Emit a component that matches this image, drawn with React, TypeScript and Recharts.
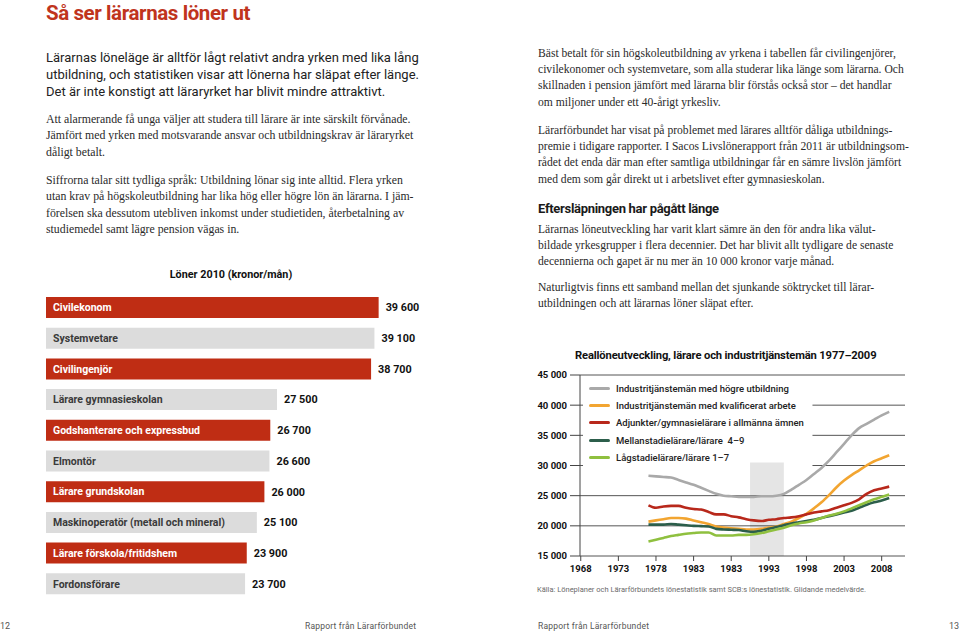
import React from "react";
import {
  Bar,
  BarChart,
  CartesianGrid,
  Cell,
  LabelList,
  Legend,
  Line,
  LineChart,
  ReferenceArea,
  XAxis,
  YAxis,
} from "recharts";

const SANS = "Roboto, 'Noto Sans', sans-serif";
const SERIF = "'Liberation Serif', 'DejaVu Serif', serif";
const RED = "#bf2d14";
const LIGHT = "#dcdcdc";

// Löner 2010 (kronor/mån)
const occupations = [
  "Civilekonom",
  "Systemvetare",
  "Civilingenjör",
  "Lärare gymnasieskolan",
  "Godshanterare och expressbud",
  "Elmontör",
  "Lärare grundskolan",
  "Maskinoperatör (metall och mineral)",
  "Lärare förskola/fritidshem",
  "Fordonsförare",
];
const salaries = [39600, 39100, 38700, 27500, 26700, 26600, 26000, 25100, 23900, 23700];
const highlighted = [true, false, true, false, true, false, true, false, true, false];

// Reallöneutveckling 1977–2009
const years = [
  1977, 1978, 1979, 1980, 1981, 1982, 1983, 1984, 1985, 1986, 1987, 1988, 1989, 1990, 1991, 1992, 1993,
  1994, 1995, 1996, 1997, 1998, 1999, 2000, 2001, 2002, 2003, 2004, 2005, 2006, 2007, 2008, 2009,
];
const hogreUtb = [
  28300, 28200, 28100, 28000, 27600, 27200, 26800, 26300, 25800, 25300, 25000, 24900, 24800, 24800, 24800,
  24900, 24900, 25000, 25300, 26000, 26800, 27600, 28600, 29600, 30800, 32200, 33600, 35000, 36200, 36900,
  37600, 38300, 38900,
];
const kvalificerat = [
  20700, 20900, 21100, 21300, 21300, 21200, 20900, 20600, 20300, 19900, 19700, 19600, 19500, 19400, 19400,
  19500, 19700, 19900, 20300, 20700, 21300, 22000, 22900, 23900, 25100, 26400, 27500, 28400, 29200, 30000,
  30700, 31200, 31700,
];
const adjunkter = [
  23400, 23000, 23200, 23300, 23300, 23000, 22800, 22700, 22300, 21900, 21900, 21600, 21400, 21100, 20900,
  20800, 21000, 21100, 21300, 21400, 21600, 21900, 22200, 22400, 22600, 23000, 23400, 23800, 24400, 25300,
  25900, 26200, 26500,
];
const mellanstadie = [
  20200, 20200, 20200, 20300, 20200, 20100, 20000, 19950, 19900, 19500, 19400, 19350, 19300, 19100, 19000,
  19200, 19500, 19800, 20100, 20400, 20600, 20800, 21000, 21300, 21600, 21900, 22200, 22500, 23000, 23500,
  23900, 24200, 24600,
];
const lagstadie = [
  17400, 17700, 18000, 18300, 18500, 18700, 18800, 18900, 18900, 18400, 18400, 18400, 18500, 18500, 18600,
  18800, 19100, 19400, 19700, 20100, 20400, 20600, 20900, 21300, 21700, 22000, 22400, 22900, 23400, 23900,
  24400, 24800, 25200,
];

const xTicks = [1968, 1973, 1978, 1983, 1988, 1993, 1998, 2003, 2008];
const xTickLabels = ["1968", "1973", "1978", "1983", "1983", "1993", "1998", "2003", "2008"];
const yTicks = [15000, 20000, 25000, 30000, 35000, 40000, 45000];

const seriesNames = [
  "Industritjänstemän med högre utbildning",
  "Industritjänstemän med kvalificerat arbete",
  "Adjunkter/gymnasielärare i allmänna ämnen",
  "Mellanstadielärare/lärare  4–9",
  "Lågstadielärare/lärare 1–7",
];
const seriesKeys = ["hogre", "kval", "adj", "mellan", "lag"];
const seriesColors = ["#a9a9a9", "#f2a531", "#b8281b", "#2c5e4b", "#8fc03f"];

// recession band and legend backdrop, in data units
const band = { x1: 1990.5, x2: 1995, y1: 15000, y2: 30500 };
const legendBox = { x1: 1968.3, x2: 1998.8, y1: 29400, y2: 44300 };

const barData = occupations.map((name, i) => ({ name, salary: salaries[i] }));
const lineData = years.map((year, i) => ({
  year,
  hogre: hogreUtb[i],
  kval: kvalificerat[i],
  adj: adjunkter[i],
  mellan: mellanstadie[i],
  lag: lagstadie[i],
}));

const fmt = (v: number) => String(v).replace(/\B(?=(\d{3})+(?!\d))/g, " ");

const lead = [
  "Lärarnas löneläge är alltför lågt relativt andra yrken med lika lång",
  "utbildning, och statistiken visar att lönerna har släpat efter länge.",
  "Det är inte konstigt att läraryrket har blivit mindre attraktivt.",
];
const left1 = [
  "Att alarmerande få unga väljer att studera till lärare är inte särskilt förvånade.",
  "Jämfört med yrken med motsvarande ansvar och utbildningskrav är läraryrket",
  "dåligt betalt.",
];
const left2 = [
  "Siffrorna talar sitt tydliga språk: Utbildning lönar sig inte alltid. Flera yrken",
  "utan krav på högskoleutbildning har lika hög eller högre lön än lärarna. I jäm-",
  "förelsen ska dessutom utebliven inkomst under studietiden, återbetalning av",
  "studiemedel samt lägre pension vägas in.",
];
const right1 = [
  "Bäst betalt för sin högskoleutbildning av yrkena i tabellen får civilingenjörer,",
  "civilekonomer och systemvetare, som alla studerar lika länge som lärarna. Och",
  "skillnaden i pension jämfört med lärarna blir förstås också stor – det handlar",
  "om miljoner under ett 40-årigt yrkesliv.",
];
const right2 = [
  "Lärarförbundet har visat på problemet med lärares alltför dåliga utbildnings-",
  "premie i tidigare rapporter. I Sacos Livslönerapport från 2011 är utbildningsom-",
  "rådet det enda där man efter samtliga utbildningar får en sämre livslön jämfört",
  "med dem som går direkt ut i arbetslivet efter gymnasieskolan.",
];
const right3 = [
  "Lärarnas löneutveckling har varit klart sämre än den för andra lika välut-",
  "bildade yrkesgrupper i flera decennier. Det har blivit allt tydligare de senaste",
  "decennierna och gapet är nu mer än 10 000 kronor varje månad.",
];
const right4 = [
  "Naturligtvis finns ett samband mellan det sjunkande söktrycket till lärar-",
  "utbildningen och att lärarnas löner släpat efter.",
];

function Para({ lines, left, top, lh, style }: { lines: string[]; left: number; top: number; lh: number; style: React.CSSProperties }) {
  return (
    <div style={{ position: "absolute", left, top, lineHeight: `${lh}px`, whiteSpace: "nowrap", ...style }}>
      {lines.map((l, i) => (
        <div key={i}>{l}</div>
      ))}
    </div>
  );
}

const leftBody: React.CSSProperties = { fontFamily: SERIF, fontSize: 11.8, color: "#2a2a2a" };
const rightBody: React.CSSProperties = { fontFamily: SERIF, fontSize: 11.6, color: "#2a2a2a" };

function readBox(props: any) {
  const vb = props.viewBox && props.viewBox.width !== undefined ? props.viewBox : props;
  return { x: Number(vb.x), y: Number(vb.y), width: Number(vb.width), height: Number(vb.height) };
}

function NameLabel(props: any) {
  const { x, y, height } = readBox(props);
  const i = occupations.indexOf(props.value);
  return (
    <text x={x + 7} y={y + height / 2} dy="0.36em" fill={highlighted[i] ? "#fff" : "#3a3a3a"} fontSize={10.5} fontWeight={700} fontFamily={SANS}>
      {props.value}
    </text>
  );
}

function ValueLabel(props: any) {
  const { x, y, width, height } = readBox(props);
  return (
    <text x={x + width + 7} y={y + height / 2} dy="0.36em" fill="#111" fontSize={10.8} fontWeight={700} fontFamily={SANS}>
      {fmt(Number(props.value))}
    </text>
  );
}

function LegendContent() {
  return (
    <div style={{ fontFamily: SANS, fontSize: 9.5, fontWeight: 500, color: "#222" }}>
      {seriesNames.map((n, i) => (
        <div key={n} style={{ display: "flex", alignItems: "center", height: 17.2 }}>
          <span style={{ display: "inline-block", width: 21, height: 3, background: seriesColors[i], borderRadius: 2, marginRight: 6 }} />
          <span style={{ whiteSpace: "pre" }}>{n}</span>
        </div>
      ))}
    </div>
  );
}

export default function App() {
  return (
    <div style={{ position: "absolute", left: 0, top: 0, width: 960, height: 632, background: "#fff", overflow: "hidden" }}>
      <div style={{ position: "absolute", left: 46, top: 1, fontFamily: SANS, fontWeight: 700, fontSize: 20.5, letterSpacing: -0.4, color: "#c0341d" }}>
        Så ser lärarnas löner ut
      </div>
      <Para lines={lead} left={46} top={48.5} lh={17} style={{ fontFamily: SANS, fontSize: 13, color: "#222" }} />
      <Para lines={left1} left={46} top={110.5} lh={16.5} style={leftBody} />
      <Para lines={left2} left={46} top={171.5} lh={16.5} style={leftBody} />

      <Para lines={right1} left={538} top={45.6} lh={16.4} style={rightBody} />
      <Para lines={right2} left={538} top={122.6} lh={16.4} style={rightBody} />
      <div style={{ position: "absolute", left: 538, top: 201, fontFamily: SANS, fontWeight: 700, fontSize: 13, letterSpacing: -0.3, color: "#1a1a1a" }}>
        Eftersläpningen har pågått länge
      </div>
      <Para lines={right3} left={538} top={221.6} lh={16.4} style={rightBody} />
      <Para lines={right4} left={538} top={279.6} lh={16.4} style={rightBody} />

      {/* bar chart */}
      <div style={{ position: "absolute", left: 46, top: 268, width: 370, textAlign: "center", fontFamily: SANS, fontWeight: 700, fontSize: 10.8, color: "#111" }}>
        Löner 2010 (kronor/mån)
      </div>
      <div style={{ position: "absolute", left: 46, top: 292 }}>
        <BarChart width={420} height={307} layout="vertical" data={barData} margin={{ top: 0, right: 42, bottom: 0, left: 0 }}>
          <XAxis type="number" domain={[0, 45000]} hide />
          <YAxis type="category" dataKey="name" hide />
          <Bar dataKey="salary" barSize={21} isAnimationActive={false}>
            {barData.map((d, i) => (
              <Cell key={d.name} fill={highlighted[i] ? RED : LIGHT} />
            ))}
            <LabelList dataKey="name" content={NameLabel} />
            <LabelList dataKey="salary" content={ValueLabel} />
          </Bar>
        </BarChart>
      </div>

      {/* line chart */}
      <div style={{ position: "absolute", left: 575, top: 349, fontFamily: SANS, fontWeight: 700, fontSize: 11.2, letterSpacing: -0.15, color: "#111", whiteSpace: "nowrap" }}>
        Reallöneutveckling, lärare och industritjänstemän 1977–2009
      </div>
      <div style={{ position: "absolute", left: 530, top: 360 }}>
        <LineChart width={380} height={226} data={lineData} margin={{ top: 15, right: 5, bottom: 0, left: 0 }}>
          <CartesianGrid vertical={false} stroke="#555" strokeWidth={1} />
          <ReferenceArea {...legendBox} fill="#fff" fillOpacity={1} stroke="none" />
          <ReferenceArea {...band} fill="#000" fillOpacity={0.1} stroke="none" />
          <XAxis
            dataKey="year"
            type="number"
            domain={[1967.9, 2011.1]}
            ticks={xTicks}
            tickFormatter={(_v: number, i: number) => xTickLabels[i]}
            axisLine={false}
            tickLine={{ stroke: "#444" }}
            tickSize={5}
            tickMargin={4}
            height={30}
            interval={0}
            tick={{ fontFamily: SANS, fontSize: 9.5, fontWeight: 700, fill: "#111" }}
          />
          <YAxis
            type="number"
            domain={[15000, 45000]}
            ticks={yTicks}
            tickFormatter={fmt}
            width={50}
            axisLine={{ stroke: "#444" }}
            tickLine={{ stroke: "#444" }}
            tickSize={10}
            tickMargin={3}
            tick={{ fontFamily: SANS, fontSize: 9.5, fontWeight: 700, fill: "#111" }}
          />
          <Legend layout="vertical" align="center" verticalAlign="middle" content={LegendContent} wrapperStyle={{ left: 59, top: 20, width: 230, height: 90 }} />
          {seriesKeys.map((k, i) => (
            <Line key={k} dataKey={k} name={seriesNames[i]} type="monotone" stroke={seriesColors[i]} strokeWidth={2.6} dot={false} isAnimationActive={false} />
          ))}
        </LineChart>
      </div>
      <div style={{ position: "absolute", left: 537, top: 585, fontFamily: SANS, fontSize: 7.5, color: "#6a6a6a", whiteSpace: "nowrap" }}>
        Källa: Löneplaner och Lärarförbundets lönestatistik samt SCB:s lönestatistik. Glidande medelvärde.
      </div>

      {/* footers */}
      <div style={{ position: "absolute", left: 0, top: 621, fontFamily: SANS, fontSize: 9, color: "#555" }}>12</div>
      <div style={{ position: "absolute", left: 305, top: 621, fontFamily: SANS, fontSize: 8.5, color: "#555", letterSpacing: 0.2 }}>Rapport från Lärarförbundet</div>
      <div style={{ position: "absolute", left: 538, top: 621, fontFamily: SANS, fontSize: 8.5, color: "#555", letterSpacing: 0.2 }}>Rapport från Lärarförbundet</div>
      <div style={{ position: "absolute", left: 949, top: 621, fontFamily: SANS, fontSize: 9, color: "#555" }}>13</div>
    </div>
  );
}
